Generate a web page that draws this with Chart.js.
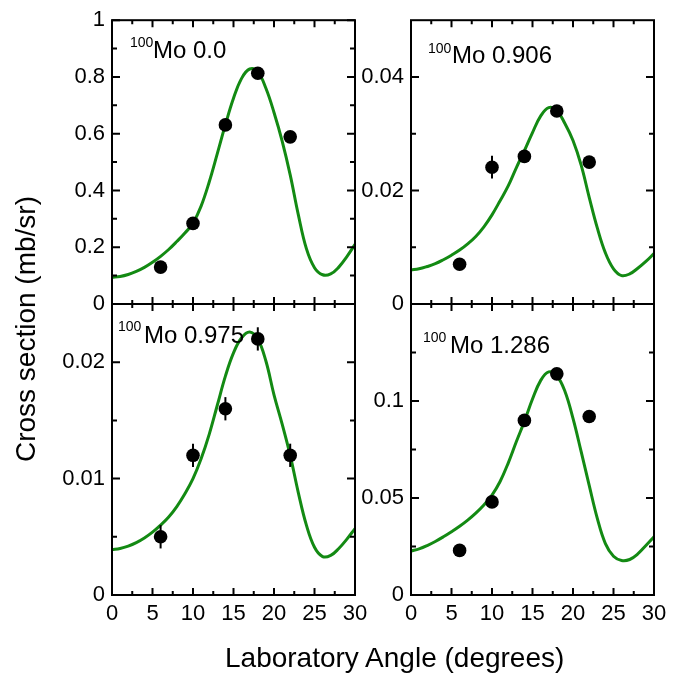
<!DOCTYPE html>
<html>
<head>
<meta charset="utf-8">
<script src="https://cdn.jsdelivr.net/npm/chart.js@4.4.1/dist/chart.umd.min.js"></script>
<style>
  body { margin: 0; background: #fff; }
  #wrap { position: relative; width: 691px; height: 678px; font-family: "Liberation Sans", Arial, sans-serif; color: #000; }
  #wrap canvas { position: absolute; left: 0; top: 0; }
  .t { position: absolute; white-space: nowrap; line-height: 1; }
  .sup { font-size: 14px; }
  .mo { font-size: 24px; }
  .axt { font-size: 28px; }
  #ytitle { width: 340px; height: 28px; text-align: center; transform: rotate(-90deg); }
</style>
</head>
<body>
<div id="wrap">
  <canvas id="tl" width="691" height="678"></canvas>
  <canvas id="tr" width="691" height="678"></canvas>
  <canvas id="bl" width="691" height="678"></canvas>
  <canvas id="br" width="691" height="678"></canvas>

  <span class="t sup" style="left:130px;top:35px">100</span><span class="t mo" style="left:153px;top:38px">Mo 0.0</span>
  <span class="t sup" style="left:428px;top:41px">100</span><span class="t mo" style="left:452px;top:43px">Mo 0.906</span>
  <span class="t sup" style="left:118px;top:319px">100</span><span class="t mo" style="left:144px;top:323px">Mo 0.975</span>
  <span class="t sup" style="left:423px;top:330px">100</span><span class="t mo" style="left:450px;top:333px">Mo 1.286</span>

  <div class="t axt" id="ytitle" style="left:-144px;top:315px">Cross section (mb/sr)</div>
  <div class="t axt" style="left:225px;top:644px">Laboratory Angle (degrees)</div>
</div>

<script>
'use strict';

// measured angles (deg)
const angles = [6, 10, 14, 18, 22];
// curve sampled every degree, 0..30
const curveAngles = [0, 1, 2, 3, 4, 5, 6, 7, 8, 9, 10, 11, 12, 13, 14, 15, 16, 17, 18, 19, 20,
  21, 22, 23, 24, 25, 26, 27, 28, 29, 30];
const xTicks = [0, 5, 10, 15, 20, 25, 30];

// 100Mo 0.0
const dataTL = [0.13, 0.284, 0.631, 0.813, 0.589];
const errTL = [0, 0, 0, 0, 0];
const curveTL = [0.094, 0.097, 0.104, 0.115, 0.129, 0.147, 0.168, 0.192, 0.220, 0.250, 0.285,
  0.345, 0.430, 0.530, 0.632, 0.725, 0.795, 0.828, 0.818, 0.760, 0.675,
  0.575, 0.455, 0.315, 0.195, 0.128, 0.103, 0.106, 0.130, 0.167, 0.210];
const yTicksTL = [0, 0.2, 0.4, 0.6, 0.8, 1];

// 100Mo 0.906
const dataTR = [0.0070, 0.0241, 0.0260, 0.0340, 0.0250];
const errTR = [0, 0.002, 0, 0, 0];
const curveTR = [0.0060, 0.0062, 0.0066, 0.0071, 0.0078, 0.0086, 0.0095, 0.0106, 0.0119, 0.0136, 0.0157,
  0.0182, 0.0208, 0.0240, 0.0270, 0.0302, 0.0331, 0.0346, 0.0341, 0.0318, 0.0288,
  0.0245, 0.0188, 0.0134, 0.0090, 0.0062, 0.0050, 0.0053, 0.0063, 0.0075, 0.0089];
const yTicksTR = [0, 0.02, 0.04];

// 100Mo 0.975
const dataBL = [0.0050, 0.0120, 0.0160, 0.0220, 0.0120];
const errBL = [0.001, 0.001, 0.001, 0.001, 0.001];
const curveBL = [0.0039, 0.0040, 0.0042, 0.0045, 0.0049, 0.0054, 0.0060, 0.0067, 0.0076, 0.0087, 0.0100,
  0.0117, 0.0138, 0.0163, 0.0188, 0.0208, 0.0221, 0.0226, 0.0220, 0.0201, 0.0172,
  0.0147, 0.0120, 0.0088, 0.0060, 0.0041, 0.0033, 0.0034, 0.0040, 0.0048, 0.0057];
const yTicksBL = [0, 0.01, 0.02];

// 100Mo 1.286
const dataBR = [0.023, 0.048, 0.090, 0.114, 0.092];
const errBR = [0, 0, 0, 0, 0];
const curveBR = [0.0227, 0.0238, 0.0255, 0.0276, 0.0300, 0.0326, 0.0354, 0.0386, 0.0422, 0.0464, 0.0515,
  0.0585, 0.0680, 0.0790, 0.0895, 0.1010, 0.1105, 0.1150, 0.1130, 0.1050, 0.0910,
  0.0740, 0.0565, 0.0395, 0.0265, 0.0200, 0.0178, 0.0183, 0.0212, 0.0255, 0.0300];
const yTicksBR = [0, 0.05, 0.1];

Chart.defaults.font.family = '"Liberation Sans", Arial, sans-serif';
Chart.defaults.color = '#000';

const W = 691, H = 678;
const green = '#138a13';

// box + inward ticks on all four sides, and error bars
const framePlugin = {
  id: 'frame',
  afterDatasetsDraw(chart, args, opts) {
    const ctx = chart.ctx;
    const a = chart.chartArea;
    const xs = chart.scales.x, ys = chart.scales.y;
    ctx.save();
    ctx.strokeStyle = '#000';
    ctx.lineWidth = 2;

    opts.err.forEach(function (e, i) {
      if (!e) return;
      const px = xs.getPixelForValue(angles[i]);
      ctx.beginPath();
      ctx.moveTo(px, ys.getPixelForValue(opts.vals[i] - e));
      ctx.lineTo(px, ys.getPixelForValue(opts.vals[i] + e));
      ctx.stroke();
    });

    ctx.strokeRect(a.left, a.top, a.right - a.left, a.bottom - a.top);

    function withMinor(vals) {
      const out = [];
      vals.forEach(function (v, i) {
        out.push([v, true]);
        if (i < vals.length - 1) out.push([(v + vals[i + 1]) / 2, false]);
      });
      return out;
    }
    ctx.beginPath();
    withMinor(xs.ticks.map(t => t.value)).forEach(function (t) {
      const p = xs.getPixelForValue(t[0]);
      const len = t[1] ? 7 : 4;
      ctx.moveTo(p, a.bottom); ctx.lineTo(p, a.bottom - len);
      ctx.moveTo(p, a.top); ctx.lineTo(p, a.top + len);
    });
    const yv = ys.ticks.map(t => t.value);
    const ylist = withMinor(yv);
    // one more minor above the last labelled tick if room
    const step = yv[1] - yv[0];
    if (yv[yv.length - 1] + step / 2 < ys.max) ylist.push([yv[yv.length - 1] + step / 2, false]);
    ylist.forEach(function (t) {
      const p = ys.getPixelForValue(t[0]);
      const len = t[1] ? 8 : 5;
      ctx.moveTo(a.left, p); ctx.lineTo(a.left + len, p);
      ctx.moveTo(a.right, p); ctx.lineTo(a.right - len, p);
    });
    ctx.stroke();
    ctx.restore();
  }
};

function makePanel(id, box, vals, err, curve, yMax, yTicks, showX) {
  const yW = 60;
  const xH = showX ? 40 : 0;
  return new Chart(document.getElementById(id), {
    type: 'scatter',
    data: {
      datasets: [
        {
          data: angles.map((a, i) => ({ x: a, y: vals[i] })),
          pointRadius: 6.8,
          pointBackgroundColor: '#000',
          pointBorderWidth: 0,
          showLine: false
        },
        {
          type: 'line',
          data: curveAngles.map((a, i) => ({ x: a, y: curve[i] })),
          borderColor: green,
          borderWidth: 3,
          pointRadius: 0,
          fill: false,
          tension: 0.4
        }
      ]
    },
    options: {
      responsive: false,
      animation: false,
      events: [],
      layout: {
        padding: { left: box[0] - yW, top: box[1], right: W - box[2], bottom: H - box[3] - xH }
      },
      plugins: {
        legend: { display: false },
        tooltip: { enabled: false },
        frame: { vals: vals, err: err }
      },
      scales: {
        x: {
          type: 'linear', min: 0, max: 30,
          afterBuildTicks: s => { s.ticks = xTicks.map(v => ({ value: v })); },
          afterFit: s => { s.height = xH; },
          grid: { display: false, drawTicks: false },
          border: { display: false },
          ticks: { display: showX, padding: 6, maxRotation: 0, autoSkip: false, font: { size: 22 }, callback: v => String(v) }
        },
        y: {
          type: 'linear', min: 0, max: yMax,
          afterBuildTicks: s => { s.ticks = yTicks.map(v => ({ value: v })); },
          afterFit: s => { s.width = yW; },
          grid: { display: false, drawTicks: false },
          border: { display: false },
          ticks: { padding: 7, autoSkip: false, font: { size: 22 }, callback: v => String(v) }
        }
      }
    },
    plugins: [framePlugin]
  });
}

makePanel('tl', [112, 14, 355, 304], dataTL, errTL, curveTL, 1, yTicksTL, false);
makePanel('tr', [411, 14, 654, 304], dataTR, errTR, curveTR, 0.05, yTicksTR, false);
makePanel('bl', [112, 304, 355, 595], dataBL, errBL, curveBL, 0.025, yTicksBL, true);
makePanel('br', [411, 304, 654, 595], dataBR, errBR, curveBR, 0.15, yTicksBR, true);
</script>
</body>
</html>
